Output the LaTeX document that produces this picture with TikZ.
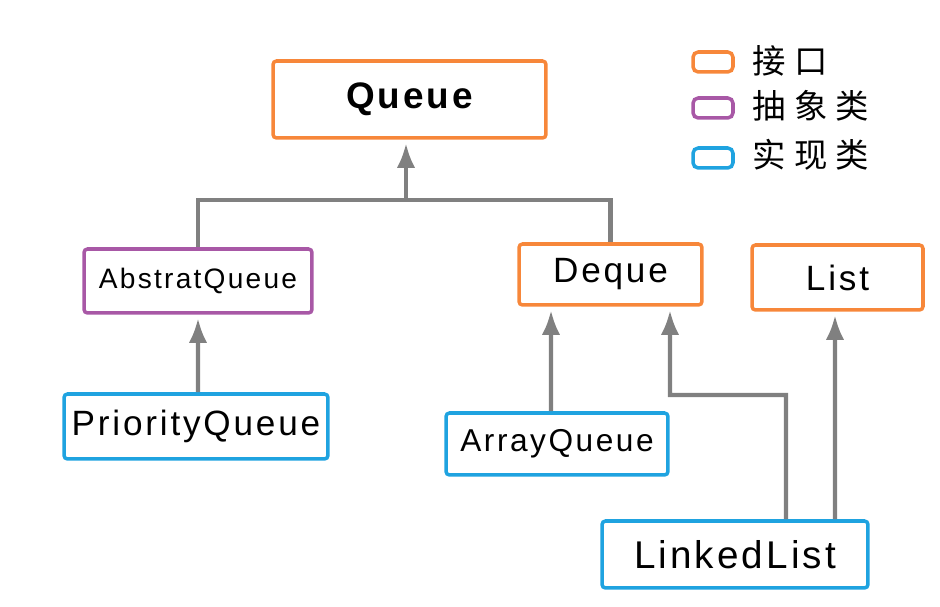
\documentclass[tikz,border=0pt]{standalone}
\usepackage{fontspec}
\setmainfont{Liberation Sans}[LetterSpace=8]
\newfontfamily\cjk[LetterSpace=25]{Noto Sans CJK SC}
\usetikzlibrary{arrows.meta}
\definecolor{ifaceorange}{HTML}{F7873A}
\definecolor{abstrpurple}{HTML}{A858A6}
\definecolor{implblue}{HTML}{1FA3E0}
\definecolor{linkgray}{HTML}{808080}
\tikzset{
  box/.style={draw,line width=2pt,rounded corners=2pt,inner sep=0pt,text=black},
  iface/.style={box,draw=ifaceorange},
  abstr/.style={box,draw=abstrpurple},
  impl/.style={box,draw=implblue},
  legbox/.style={draw=#1,line width=2pt,rounded corners=3pt,
    minimum width=0.8cm,minimum height=0.4cm,inner sep=0pt},
  legtext/.style={anchor=west,inner sep=0pt,font=\cjk\fontsize{19}{22}\selectfont},
  link/.style={draw=linkgray,line width=2.3pt},
  arrow/.style={link,-{Latex[length=14pt,width=10.5pt]},shorten >=2pt},
}

\begin{document}
\begin{tikzpicture}[x=0.02cm,y=-0.02cm]
  \useasboundingbox (0,0) rectangle (940,607);
  % classes
  \node[iface,minimum width=5.46cm,minimum height=1.54cm,font=\bfseries\fontsize{21}{25}\selectfont]
    (queue) at (409.5,99.5) {Queue};
  \node[abstr,minimum width=4.56cm,minimum height=1.28cm,font=\fontsize{16}{19}\selectfont]
    (abstract) at (198,281) {AbstratQueue};
  \node[iface,minimum width=3.66cm,minimum height=1.22cm,font=\fontsize{20}{24}\selectfont]
    (deque) at (610.5,274.5) {Deque};
  \node[iface,minimum width=3.42cm,minimum height=1.30cm,font=\fontsize{20}{24}\selectfont]
    (list) at (837.5,277.5) {List};
  \node[impl,minimum width=5.28cm,minimum height=1.30cm,font=\fontsize{20}{24}\selectfont]
    (prio) at (196,426.5) {PriorityQueue};
  \node[impl,minimum width=4.44cm,minimum height=1.24cm,font=\fontsize{18}{22}\selectfont]
    (array) at (557,444) {ArrayQueue};
  \node[impl,minimum width=5.32cm,minimum height=1.34cm,font=\fontsize{22}{26}\selectfont]
    (linked) at (735,554.5) {LinkedList};

  % legend
  \node[legbox=ifaceorange] (legiface) at (713,62) {};
  \node[legtext] (legifacetext) at (752,61) {接口};
  \node[legbox=abstrpurple] (legabstr) at (713,108) {};
  \node[legtext] (legabstrtext) at (752,106) {抽象类};
  \node[legbox=implblue] (legimpl) at (713,158) {};
  \node[legtext] (legimpltext) at (752,155) {实现类};

  % inheritance
  \coordinate (join) at (406,200);
  \coordinate (bend) at (670,395);
  \draw[link] (abstract.north) |- (join) -| (deque.north);
  \draw[arrow] (join) -- (join |- queue.south);
  \draw[arrow] ([xshift=0.04cm]prio.north) -- (abstract.south);
  \draw[arrow] ([xshift=-0.12cm]array.north) -- ([xshift=-1.19cm]deque.south);
  \draw[arrow] ([xshift=1.02cm]linked.north) |- (bend) -- ([xshift=1.19cm]deque.south);
  \draw[arrow] ([xshift=2cm]linked.north) -- ([xshift=-0.05cm]list.south);
\end{tikzpicture}
\end{document}
